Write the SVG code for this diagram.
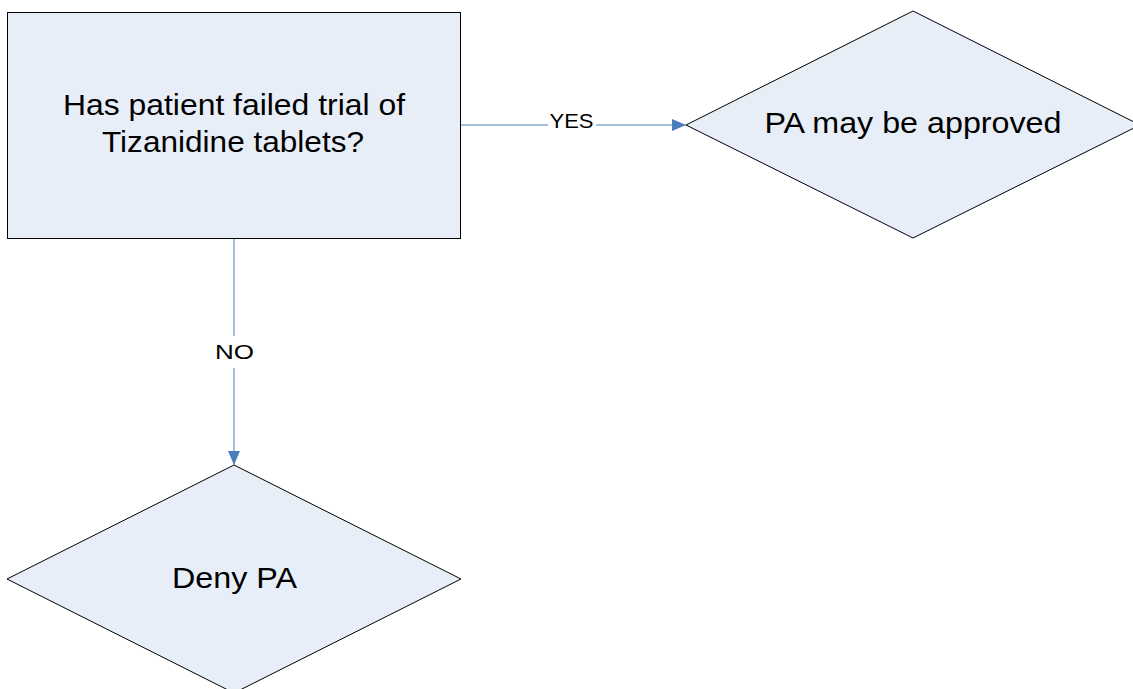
<svg xmlns="http://www.w3.org/2000/svg" width="1133" height="689" viewBox="0 0 1133 689">
<style>
.node{fill:#e8eef8;stroke:#000;stroke-width:1}
.t{font-family:"Liberation Sans",Arial,sans-serif;fill:#000;text-anchor:middle}
.big{font-size:30px}
.lbl{font-size:21px}
.conn{stroke:#4a7ebb;stroke-width:1;fill:none}
</style>
<defs>
<marker id="arr" viewBox="0 0 14 12" refX="14" refY="6" markerWidth="14" markerHeight="12" markerUnits="userSpaceOnUse" orient="auto">
<path d="M0,0 L14,6 L0,12 Z" fill="#4a7ebb"/>
</marker>
</defs>
<g id="q1">
<rect class="node" x="7.5" y="12.5" width="453" height="226"/>
<text class="t big" x="234" y="115" textLength="342" lengthAdjust="spacingAndGlyphs">Has patient failed trial of</text>
<text class="t big" x="233" y="152" textLength="262" lengthAdjust="spacingAndGlyphs">Tizanidine tablets?</text>
</g>
<g id="approve">
<polygon class="node" points="913,11 1140,125 913,238 686,125"/>
<text class="t big" x="913" y="133" textLength="297" lengthAdjust="spacingAndGlyphs">PA may be approved</text>
</g>
<g id="deny">
<polygon class="node" points="234,465 461,579 234,693 7,579"/>
<text class="t big" x="234.5" y="588" textLength="125" lengthAdjust="spacingAndGlyphs">Deny PA</text>
</g>
<g id="connectors">
<line class="conn" x1="461" y1="125" x2="548" y2="125"/>
<line class="conn" x1="596" y1="125" x2="686" y2="125" marker-end="url(#arr)"/>
<text class="t lbl" x="571.5" y="128" textLength="44" lengthAdjust="spacingAndGlyphs">YES</text>
<line class="conn" x1="234" y1="239" x2="234" y2="336"/>
<line class="conn" x1="234" y1="368" x2="234" y2="465" marker-end="url(#arr)"/>
<text class="t lbl" x="234.5" y="359" textLength="39" lengthAdjust="spacingAndGlyphs">NO</text>
</g>
</svg>
